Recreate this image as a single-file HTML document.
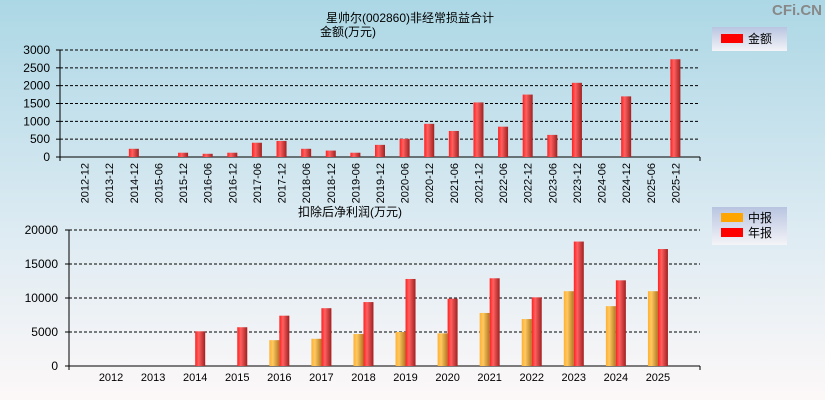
<!DOCTYPE html>
<html><head><meta charset="utf-8"><style>
body{margin:0;width:825px;height:400px;overflow:hidden;font-family:"Liberation Sans","Noto Sans CJK SC",sans-serif}
svg text{font-family:"Liberation Sans","Noto Sans CJK SC",sans-serif}
</style></head><body>
<svg id="c" width="825" height="400" xmlns="http://www.w3.org/2000/svg">
<defs>
<linearGradient id="bg" x1="0" y1="0" x2="0" y2="1"><stop offset="0" stop-color="#acd7e5"/><stop offset="0.55" stop-color="#dbeaf2"/><stop offset="1" stop-color="#fdf8f8"/></linearGradient>
<linearGradient id="rg" x1="0" y1="0" x2="1" y2="0"><stop offset="0" stop-color="#ff2020"/><stop offset="0.35" stop-color="#ff6060"/><stop offset="1" stop-color="#a02020"/></linearGradient>
<linearGradient id="og" x1="0" y1="0" x2="1" y2="0"><stop offset="0" stop-color="#ffb030"/><stop offset="0.35" stop-color="#ffc860"/><stop offset="1" stop-color="#b07820"/></linearGradient>
<linearGradient id="lg" x1="0" y1="0" x2="0" y2="1"><stop offset="0" stop-color="#b8c4e0"/><stop offset="1" stop-color="#f4f4f8"/></linearGradient>
</defs>
<rect width="825" height="400" fill="url(#bg)"/>
<text x="797" y="15" font-size="15" font-weight="bold" fill="#888" text-anchor="middle">CFi.CN</text>
<text x="410" y="22" font-size="12" text-anchor="middle">星帅尔(002860)非经常损益合计</text>
<text x="348" y="36" font-size="12" text-anchor="middle">金额(万元)</text>
<text x="350" y="216" font-size="12" text-anchor="middle">扣除后净利润(万元)</text>
<g><rect x="712" y="27" width="75" height="24" fill="url(#lg)"/><rect x="721" y="34" width="22" height="9" fill="#f00"/><text x="748" y="43" font-size="12">金额</text></g>
<g><rect x="712" y="207" width="75" height="38" fill="url(#lg)"/><rect x="721" y="213" width="22" height="9" fill="#ffa500"/><text x="748" y="222" font-size="12">中报</text><rect x="721" y="228" width="22" height="9" fill="#f00"/><text x="748" y="237" font-size="12">年报</text></g>
<g id="top"></g><g id="bot"></g>
</svg>
<script>
const topCats=["2012-12","2013-12","2014-12","2015-06","2015-12","2016-06","2016-12","2017-06","2017-12","2018-06","2018-12","2019-06","2019-12","2020-06","2020-12","2021-06","2021-12","2022-06","2022-12","2023-06","2023-12","2024-06","2024-12","2025-06","2025-12"];
const topVals=[0,0,230,0,120,90,120,400,450,230,180,120,340,510,930,730,1530,850,1750,620,2080,0,1700,0,2740];
const topTicks=[0,500,1000,1500,2000,2500,3000];
const botCats=["2012","2013","2014","2015","2016","2017","2018","2019","2020","2021","2022","2023","2024","2025"];
const midVals=[0,0,0,0,3800,4000,4700,5000,4800,7800,6900,11000,8800,11000];
const annVals=[0,0,5100,5700,7400,8500,9400,12800,9900,12900,10100,18300,12600,17200];
const botTicks=[0,5000,10000,15000,20000];
const NS="http://www.w3.org/2000/svg";
function mk(p,t,a){const e=document.createElementNS(NS,t);for(const k in a)e.setAttribute(k,a[k]);p.appendChild(e);return e;}
// top chart
const T=document.getElementById('top');
const tx0=60,tx1=700,ty0=157,ty1=50;
const tY=v=>ty0-(v/3000)*(ty0-ty1);
const tX=i=>tx0+(tx1-tx0)/(topCats.length+1)*(i+1);
topTicks.forEach(v=>{
 if(v>0){const g=mk(T,'line',{x1:tx0,x2:tx1,y1:tY(v),y2:tY(v),stroke:'#000','stroke-dasharray':'3,2'});
 
 }
 const t=mk(T,'text',{x:tx0-10,y:tY(v)+4,'font-size':12,'text-anchor':'end'});t.textContent=v;
 
 
 mk(T,'line',{x1:tx0-4,x2:tx0,y1:tY(v),y2:tY(v),stroke:'#000'});
});
mk(T,'line',{x1:tx0,x2:tx0,y1:ty1,y2:ty0+4,stroke:'#000'});
mk(T,'line',{x1:tx0,x2:tx1,y1:ty0,y2:ty0,stroke:'#000'});
mk(T,'line',{x1:tx1,x2:tx1,y1:ty0,y2:ty0+4,stroke:'#000'});
topCats.forEach((c,i)=>{
 const x=tX(i);
 if(topVals[i]>0){const r=mk(T,'rect',{x:x-5,y:tY(topVals[i]),width:10,height:ty0-tY(topVals[i]),fill:'url(#rg)'});
 
 }
 const t=mk(T,'text',{x:x+4,y:ty0+6,'font-size':11,'text-anchor':'end',transform:`rotate(-90 ${x+4} ${ty0+6})`});t.textContent=c;
 
 
});
// bottom chart
const B=document.getElementById('bot');
const bx0=69,bx1=700,by0=366,by1=230;
const bY=v=>by0-(v/20000)*(by0-by1);
const bX=i=>bx0+(bx1-bx0)/(botCats.length+1)*(i+1);
botTicks.forEach(v=>{
 if(v>0){const g=mk(B,'line',{x1:bx0,x2:bx1,y1:bY(v),y2:bY(v),stroke:'#000','stroke-dasharray':'3,2'});
 
 }
 const t=mk(B,'text',{x:bx0-11,y:bY(v)+4,'font-size':12,'text-anchor':'end'});t.textContent=v;
 
 
 mk(B,'line',{x1:bx0-4,x2:bx0,y1:bY(v),y2:bY(v),stroke:'#000'});
});
mk(B,'line',{x1:bx0,x2:bx0,y1:by1,y2:by0+4,stroke:'#000'});
mk(B,'line',{x1:bx0,x2:bx1,y1:by0,y2:by0,stroke:'#000'});
mk(B,'line',{x1:bx1,x2:bx1,y1:by0,y2:by0+4,stroke:'#000'});
botCats.forEach((c,i)=>{
 const x=bX(i);
 if(midVals[i]>0){const r=mk(B,'rect',{x:x-10,y:bY(midVals[i]),width:10,height:by0-bY(midVals[i]),fill:'url(#og)'});
 
 }
 if(annVals[i]>0){const r=mk(B,'rect',{x:x,y:bY(annVals[i]),width:10,height:by0-bY(annVals[i]),fill:'url(#rg)'});
 
 }
 const t=mk(B,'text',{x:x,y:by0+15,'font-size':11,'text-anchor':'middle'});t.textContent=c;
 
 
});
</script>
</body></html>
